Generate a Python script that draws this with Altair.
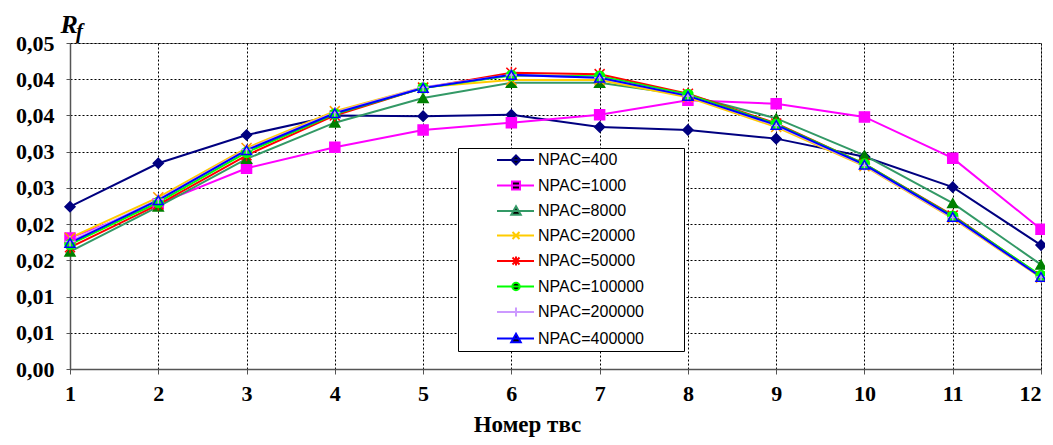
import altair as alt
import pandas as pd

tvs = list(range(1, 13))
series = ["NPAC=400", "NPAC=1000", "NPAC=8000", "NPAC=20000",
          "NPAC=50000", "NPAC=100000", "NPAC=200000", "NPAC=400000"]

npac400 = [0.0224, 0.0284, 0.0323, 0.0350, 0.0349, 0.0351, 0.0334, 0.0330, 0.0318, 0.0293, 0.0251, 0.0171]
npac1000 = [0.0181, 0.0228, 0.0277, 0.0306, 0.0330, 0.0340, 0.0351, 0.0371, 0.0366, 0.0348, 0.0291, 0.0193]
npac8000 = [0.0162, 0.0224, 0.0290, 0.0340, 0.0374, 0.0395, 0.0395, 0.0378, 0.0346, 0.0295, 0.0229, 0.0144]
npac20000 = [0.0181, 0.0237, 0.0305, 0.0356, 0.0389, 0.0399, 0.0399, 0.0375, 0.0334, 0.0280, 0.0208, 0.0126]
npac50000 = [0.0168, 0.0227, 0.0295, 0.0350, 0.0388, 0.0409, 0.0407, 0.0380, 0.0339, 0.0283, 0.0212, 0.0128]
npac100000 = [0.0172, 0.0230, 0.0299, 0.0352, 0.0388, 0.0405, 0.0404, 0.0379, 0.0338, 0.0283, 0.0211, 0.0129]
npac200000 = [0.0176, 0.0234, 0.0303, 0.0354, 0.0389, 0.0406, 0.0402, 0.0377, 0.0336, 0.0281, 0.0209, 0.0127]
npac400000 = [0.0174, 0.0233, 0.0302, 0.0353, 0.0388, 0.0406, 0.0402, 0.0377, 0.0337, 0.0282, 0.0210, 0.0127]

y_ticks = [0.0, 0.005, 0.01, 0.015, 0.02, 0.025, 0.03, 0.035, 0.04, 0.045]
y_tick_labels = ["0,00", "0,01", "0,01", "0,02", "0,02", "0,03", "0,03", "0,04", "0,04", "0,05"]

line_colors = ["#000080", "#FF00FF", "#339966", "#FFCC00", "#FF0000", "#00FF00", "#CC99FF", "#0000FF"]
marker_strokes = ["#000080", "#FF00FF", "#008000", "#FF9900", "#FF0000", "#00FF00", "#CC99FF", "#0000FF"]
marker_fills = ["#000080", "#FF00FF", "#008000", "transparent", "transparent", "#00FF00", "transparent", "transparent"]

X_PATH = "M-1,-1L1,1M-1,1L1,-1"
AST_PATH = "M-1,-1L1,1M-1,1L1,-1M0,-1.2V1.2"
PLUS_PATH = "M-1.1,0H1.1M0,-1.1V1.1"
plot_shapes = ["diamond", "square", "triangle-up", X_PATH, AST_PATH, "circle", PLUS_PATH, "triangle-up"]

LINE = "M-1,0H6.4"
legend_shapes = [
    LINE + "M2.8,-0.9L3.7,0L2.8,0.9L1.9,0Z",
    LINE + "M2.0,-0.8H3.6V0.8H2.0Z",
    LINE + "M2.8,-0.95L3.75,0.75H1.85Z",
    LINE + "M2.1,-0.7L3.5,0.7M2.1,0.7L3.5,-0.7",
    LINE + "M2.1,-0.7L3.5,0.7M2.1,0.7L3.5,-0.7M2.8,-0.9V0.9",
    LINE + "M2.05,0A0.75,0.75,0,1,0,3.55,0A0.75,0.75,0,1,0,2.05,0Z",
    LINE + "M2.8,-0.9V0.9",
    LINE + "M2.8,-0.95L3.75,0.75H1.85Z",
]

all_vals = [npac400, npac1000, npac8000, npac20000, npac50000, npac100000, npac200000, npac400000]
rows = []
for name, vals in zip(series, all_vals):
    for x, v in zip(tvs, vals):
        rows.append({"tvs": x, "rf": v, "series": name})
df = pd.DataFrame(rows)

label_arr = "[" + ",".join("'" + s + "'" for s in y_tick_labels) + "]"

x_axis = alt.Axis(values=tvs, format="d", title="Номер твс",
                  labelFont="Liberation Serif", labelFontSize=22, labelFontWeight="bold",
                  labelColor="black", labelPadding=9, tickSize=5, tickColor="#555555",
                  domainColor="#555555", domainWidth=1.5,
                  labelAlign={"condition": {"test": "datum.value == 12", "value": "right"}, "value": "center"},
                  grid=True, gridColor="black", gridDash=[2, 2], gridWidth=1,
                  titleFont="Liberation Serif", titleFontSize=23, titleFontWeight="bold",
                  titleColor="black", titleX=457, titleY=62, titleBaseline="alphabetic",
                  titleAnchor="start", titleAlign="center", labelFlush=False)
y_axis = alt.Axis(values=y_ticks, labelExpr=label_arr + "[round(datum.value*200)]",
                  title="R", titleAngle=0, titleX=-10, titleY=-11, titleAlign="left",
                  titleBaseline="alphabetic", titleFont="Liberation Serif",
                  titleFontSize=26, titleFontWeight="bold", titleFontStyle="italic",
                  titleColor="black",
                  labelFont="Liberation Serif", labelFontSize=22, labelFontWeight="bold",
                  labelColor="black", labelPadding=12, tickSize=4, tickColor="#555555",
                  domainColor="#555555", domainWidth=1.5, labelOverlap=False,
                  grid=True, gridColor="black", gridDash=[2, 2], gridWidth=1)

x_enc = alt.X("tvs:Q", scale=alt.Scale(domain=[1, 12], nice=False), axis=x_axis)
y_enc = alt.Y("rf:Q", scale=alt.Scale(domain=[0, 0.045], nice=False, zero=True), axis=y_axis)

lines = alt.Chart(df).mark_line(strokeWidth=2).encode(
    x=x_enc, y=y_enc,
    color=alt.Color("series:N", scale=alt.Scale(domain=series, range=line_colors), legend=None),
    detail="series:N",
)

points = alt.Chart(df).mark_point(size=100, strokeWidth=1.5, opacity=1, fillOpacity=1).encode(
    x=x_enc, y=y_enc,
    shape=alt.Shape("series:N", scale=alt.Scale(domain=series, range=plot_shapes), legend=None),
    stroke=alt.Stroke("series:N", scale=alt.Scale(domain=series, range=marker_strokes), legend=None),
    fill=alt.Fill("series:N", scale=alt.Scale(domain=series, range=marker_fills), legend=None),
)

pad = "\u2800" * 3
leg = alt.Legend(title=None, orient="none", legendX=388, legendY=105,
                 strokeColor="black", fillColor="white", padding=4,
                 labelFont="Liberation Sans", labelFontSize=16, labelColor="black",
                 labelExpr="datum.label + '" + pad + "'", labelLimit=400,
                 symbolSize=100, symbolStrokeWidth=2, symbolOffset=32, labelOffset=28,
                 rowPadding=8.5)

legend_layer = alt.Chart(df).transform_filter("false").mark_point(strokeWidth=2, opacity=1).encode(
    shape=alt.Shape("series:N", scale=alt.Scale(domain=series, range=legend_shapes), legend=leg),
    stroke=alt.Stroke("series:N", scale=alt.Scale(domain=series, range=line_colors), legend=leg),
    fill=alt.Fill("series:N", scale=alt.Scale(domain=series, range=marker_fills), legend=leg),
)

sub_f = alt.Chart(pd.DataFrame({"t": ["f"]})).mark_text(
    font="Liberation Serif", fontSize=21, fontWeight="bold", fontStyle="italic",
    align="left", baseline="alphabetic", color="black"
).encode(x=alt.value(6), y=alt.value(-5), text="t:N")

chart = alt.layer(lines, points, legend_layer, sub_f).resolve_scale(
    shape="independent", stroke="independent"
).properties(
    width=971, height=326,
    autosize=alt.AutoSizeParams(type="none"),
    padding={"left": 62, "top": 35, "right": 4, "bottom": 68},
    background="white",
).configure_view(stroke="#888888", strokeWidth=1)

chart.save("out.html", embed_options={"renderer": "svg", "actions": False})
